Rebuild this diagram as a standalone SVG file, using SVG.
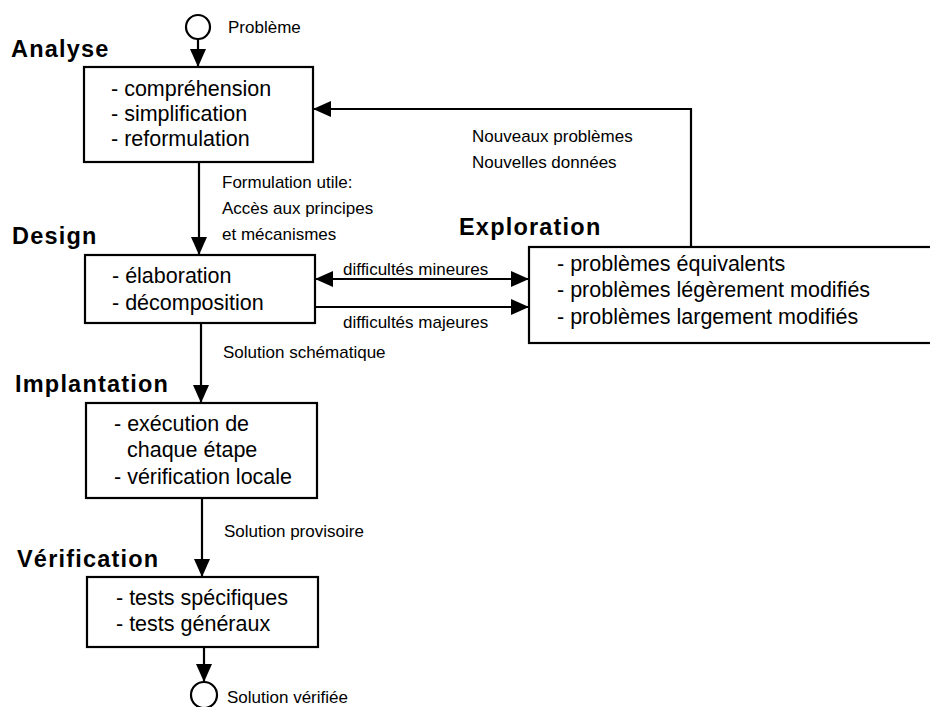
<svg xmlns="http://www.w3.org/2000/svg" width="930" height="707" viewBox="0 0 930 707">
<defs>
<marker id="ah" viewBox="0 0 18 16" refX="18" refY="8" markerWidth="18" markerHeight="16" markerUnits="userSpaceOnUse" orient="auto-start-reverse">
<path d="M0,0 L18,8 L0,16 z" fill="#000"/>
</marker>
</defs>
<style>
.box{fill:#fff;stroke:#000;stroke-width:2.2}
.bt{font-family:"Liberation Sans",Arial,sans-serif;font-size:21.5px;fill:#000}
.lb{font-family:"Liberation Sans",Arial,sans-serif;font-size:17px;fill:#000}
.hd{font-family:"Liberation Sans",Arial,sans-serif;font-size:23.5px;font-weight:bold;letter-spacing:1.2px;fill:#000}
.cn{fill:none;stroke:#000;stroke-width:2.2}
.term{fill:#fff;stroke:#000;stroke-width:2.2}
</style>
<rect width="930" height="707" fill="#fff"/>
<g id="connectors">
<line class="cn" x1="198" y1="39" x2="198" y2="67" marker-end="url(#ah)"/>
<line class="cn" x1="199" y1="162" x2="199" y2="255" marker-end="url(#ah)"/>
<line class="cn" x1="201" y1="323" x2="201" y2="403" marker-end="url(#ah)"/>
<line class="cn" x1="202" y1="498" x2="202" y2="577" marker-end="url(#ah)"/>
<line class="cn" x1="204" y1="647" x2="204" y2="682" marker-end="url(#ah)"/>
<polyline class="cn" points="691,247 691,109 313,109" marker-end="url(#ah)"/>
<line class="cn" x1="315" y1="279" x2="529" y2="279" marker-start="url(#ah)" marker-end="url(#ah)"/>
<line class="cn" x1="315" y1="307" x2="529" y2="307" marker-end="url(#ah)"/>
<text class="lb" x="228" y="33">Problème</text>
<text class="lb" x="222" y="188">Formulation utile:</text>
<text class="lb" x="222" y="214">Accès aux principes</text>
<text class="lb" x="222" y="240">et mécanismes</text>
<text class="lb" x="472" y="142">Nouveaux problèmes</text>
<text class="lb" x="472" y="168">Nouvelles données</text>
<text class="lb" x="343" y="275">difficultés mineures</text>
<text class="lb" x="343" y="328">difficultés majeures</text>
<text class="lb" x="223" y="358">Solution schématique</text>
<text class="lb" x="224" y="537">Solution provisoire</text>
<text class="lb" x="227" y="703">Solution vérifiée</text>
</g>
<g id="start">
<circle class="term" cx="198" cy="27" r="12"/>
</g>
<g id="end">
<circle class="term" cx="204" cy="695" r="13"/>
</g>
<g id="analyse">
<text class="hd" x="11" y="57">Analyse</text>
<rect class="box" x="84" y="67" width="229" height="95"/>
<text class="bt" x="111" y="96">- compréhension</text>
<text class="bt" x="111" y="121">- simplification</text>
<text class="bt" x="111" y="146">- reformulation</text>
</g>
<g id="design">
<text class="hd" x="12" y="244">Design</text>
<rect class="box" x="85" y="255" width="230" height="68"/>
<text class="bt" x="112" y="283">- élaboration</text>
<text class="bt" x="112" y="310">- décomposition</text>
</g>
<g id="exploration">
<text class="hd" x="459" y="235">Exploration</text>
<rect class="box" x="529" y="247" width="420" height="96"/>
<text class="bt" x="557" y="271">- problèmes équivalents</text>
<text class="bt" x="557" y="297">- problèmes légèrement modifiés</text>
<text class="bt" x="557" y="324">- problèmes largement modifiés</text>
</g>
<g id="implantation">
<text class="hd" x="15" y="392">Implantation</text>
<rect class="box" x="86" y="403" width="231" height="95"/>
<text class="bt" x="114" y="431">- exécution de</text>
<text class="bt" x="127" y="457">chaque étape</text>
<text class="bt" x="114" y="484">- vérification locale</text>
</g>
<g id="verification">
<text class="hd" x="17" y="567">Vérification</text>
<rect class="box" x="87" y="577" width="231" height="70"/>
<text class="bt" x="116" y="605">- tests spécifiques</text>
<text class="bt" x="116" y="631">- tests généraux</text>
</g>
</svg>
